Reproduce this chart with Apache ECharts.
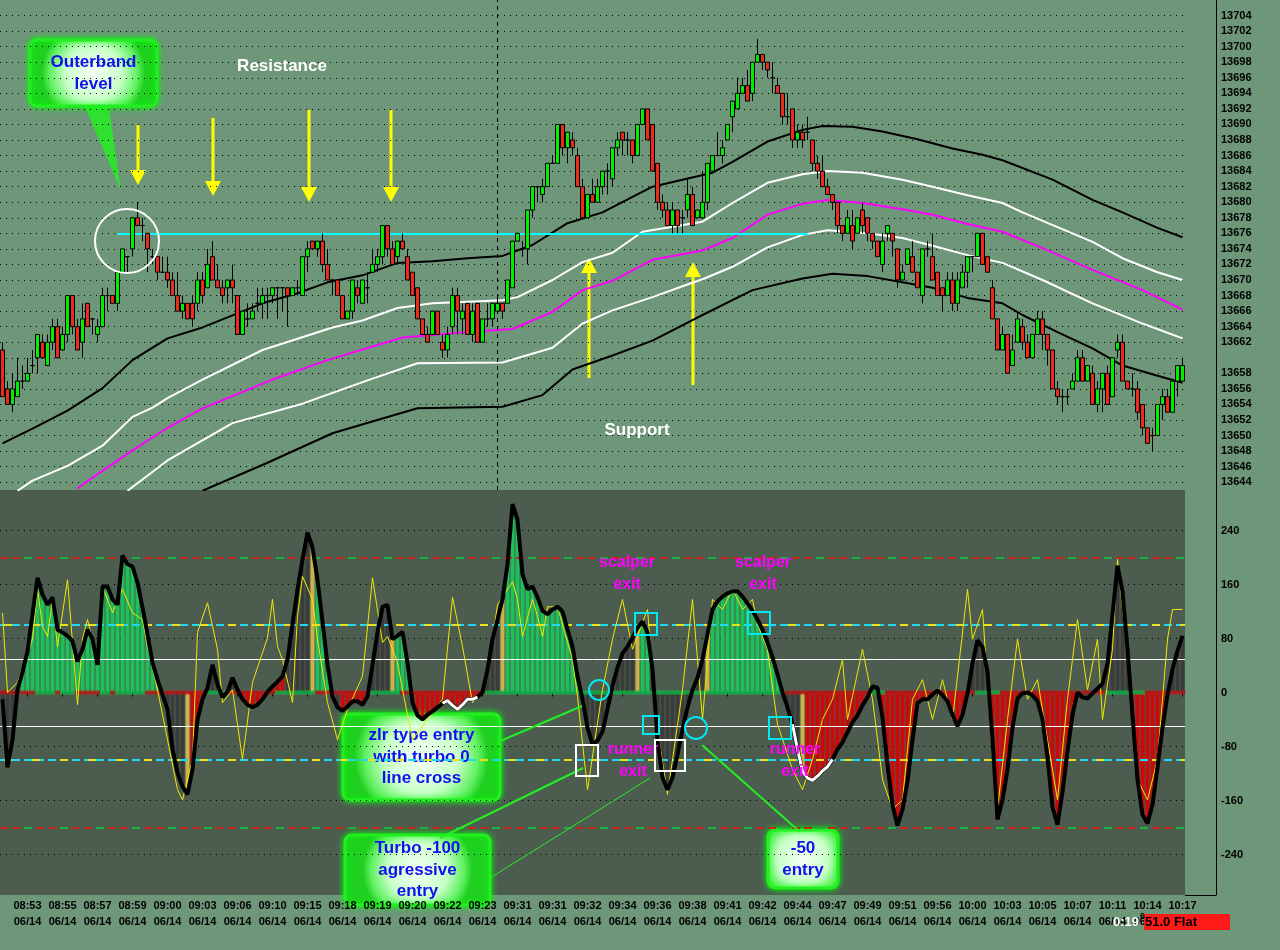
<!DOCTYPE html>
<html><head><meta charset="utf-8">
<script src="https://cdn.jsdelivr.net/npm/echarts@6/dist/echarts.min.js"></script>
<style>html,body{margin:0;padding:0;background:#6e9679;}#c{width:1280px;height:950px;}</style>
</head><body><div id="c"></div>
<script>
// ---------- DATA ----------
const tickTimes = ['08:53','08:55','08:57','08:59','09:00','09:03','09:06','09:10','09:15','09:18','09:19','09:20','09:22','09:23','09:31','09:31','09:32','09:34','09:36','09:38','09:41','09:42','09:44','09:47','09:49','09:51','09:56','10:00','10:03','10:05','10:07','10:11','10:14','10:17'];
const tickDate = '06/14';
const priceGrid = [13644,13646,13648,13650,13652,13654,13656,13658,13660,13662,13664,13666,13668,13670,13672,13674,13676,13678,13680,13682,13684,13686,13688,13690,13692,13694,13696,13698,13700,13702,13704];
const hiddenPriceLabel = 13660; // replaced by the last-price marker
const cciTicks = [-240,-160,-80,0,80,160,240];
const cciLevels = {outer: 200, inner: 100, half: 50};

const opens = [
13661,13656,13654,13655,13657,13657,13659,13660,13662,13659,
13662,13664,13661,13663,13668,13664,13662,13667,13665,13663,
13664,13668,13668,13667,13671,13673,13674,13678,13677,13676,
13673,13673,13671,13671,13670,13668,13666,13667,13667,13667,
13670,13669,13673,13670,13669,13669,13670,13668,13663,13665,
13665,13667,13667,13668,13668,13669,13669,13669,13668,13669,
13668,13673,13675,13674,13675,13672,13670,13670,13668,13665,
13666,13669,13667,13669,13671,13672,13673,13677,13674,13673,
13675,13673,13671,13669,13665,13663,13663,13666,13662,13661,
13664,13668,13665,13667,13663,13667,13662,13665,13665,13666,
13667,13667,13669,13675,13674,13674,13679,13682,13681,13682,
13685,13685,13690,13687,13688,13686,13682,13678,13681,13680,
13682,13684,13683,13687,13689,13688,13688,13686,13690,13692,
13690,13685,13680,13679,13677,13679,13678,13679,13681,13678,
13678,13680,13684,13686,13686,13688,13691,13692,13694,13695,
13694,13698,13699,13698,13696,13695,13694,13691,13692,13688,
13689,13689,13688,13685,13684,13682,13681,13680,13677,13676,
13677,13676,13679,13678,13676,13675,13672,13676,13676,13674,
13670,13672,13673,13671,13668,13674,13673,13671,13669,13668,
13670,13667,13669,13671,13673,13673,13676,13673,13669,13665,
13661,13663,13659,13662,13664,13662,13660,13663,13665,13663,
13661,13656,13655,13655,13656,13657,13660,13657,13658,13654,
13656,13658,13655,13661,13662,13657,13656,13656,13654,13651,
13650,13650,13654,13655,13653,13657,13657];
const closes = [
13655,13654,13656,13657,13657,13658,13659,13663,13660,13662,
13664,13660,13663,13668,13664,13661,13665,13664,13665,13664,
13668,13668,13667,13671,13674,13673,13678,13677,13677,13674,
13673,13671,13671,13670,13668,13666,13667,13665,13665,13670,
13668,13672,13670,13669,13668,13670,13669,13663,13666,13665,
13666,13667,13668,13668,13669,13669,13669,13668,13669,13669,
13673,13674,13674,13675,13672,13670,13670,13668,13665,13666,
13670,13668,13670,13669,13672,13673,13677,13674,13672,13675,
13674,13670,13668,13665,13663,13662,13666,13663,13661,13663,
13668,13666,13666,13663,13666,13662,13665,13665,13667,13667,
13666,13670,13675,13676,13674,13679,13682,13682,13682,13685,
13685,13690,13687,13689,13687,13682,13678,13681,13680,13682,
13684,13684,13687,13688,13688,13688,13686,13690,13692,13688,
13684,13680,13679,13677,13679,13677,13678,13681,13677,13679,
13680,13685,13686,13686,13687,13690,13693,13694,13695,13693,
13698,13699,13698,13697,13696,13694,13691,13691,13688,13689,
13688,13689,13685,13684,13682,13681,13680,13677,13676,13678,
13675,13678,13677,13676,13675,13673,13675,13677,13675,13670,
13671,13674,13671,13669,13674,13674,13670,13668,13668,13670,
13667,13670,13671,13673,13673,13676,13672,13671,13665,13661,
13663,13658,13661,13665,13662,13660,13663,13665,13663,13661,
13656,13655,13655,13655,13657,13660,13657,13659,13654,13656,
13658,13654,13660,13662,13657,13656,13656,13653,13651,13649,
13650,13654,13655,13653,13657,13659,13659];
const lows = [
13655,13654,13653,13655,13656,13657,13658,13658,13660,13659,
13661,13660,13661,13662,13663,13661,13660,13664,13663,13662,
13664,13666,13667,13666,13671,13671,13673,13677,13675,13671,
13672,13670,13671,13669,13668,13666,13665,13665,13664,13666,
13667,13669,13670,13669,13667,13667,13667,13663,13663,13664,
13665,13666,13665,13665,13667,13665,13666,13664,13668,13668,
13668,13671,13674,13673,13671,13670,13668,13668,13665,13665,
13665,13667,13667,13667,13671,13671,13672,13673,13672,13672,
13674,13670,13668,13665,13663,13662,13663,13663,13660,13660,
13663,13663,13663,13663,13662,13662,13662,13664,13664,13666,
13665,13667,13669,13675,13673,13672,13678,13680,13680,13682,
13685,13685,13686,13685,13686,13682,13678,13678,13680,13680,
13681,13681,13682,13686,13686,13686,13685,13686,13690,13688,
13684,13679,13678,13677,13676,13676,13676,13678,13677,13678,
13678,13679,13684,13686,13685,13688,13689,13692,13694,13693,
13693,13698,13697,13696,13694,13694,13690,13690,13687,13687,
13687,13688,13684,13683,13682,13681,13679,13676,13675,13676,
13674,13676,13676,13675,13674,13673,13671,13675,13673,13669,
13670,13672,13671,13669,13667,13673,13670,13668,13666,13668,
13666,13666,13669,13669,13671,13673,13672,13671,13665,13661,
13661,13658,13659,13662,13661,13660,13660,13663,13661,13659,
13656,13654,13653,13654,13656,13657,13657,13657,13654,13653,
13653,13654,13655,13660,13657,13656,13655,13652,13650,13649,
13648,13650,13652,13653,13653,13655,13657];
const highs = [
13662,13657,13658,13660,13659,13660,13661,13663,13663,13663,
13665,13665,13664,13668,13668,13665,13667,13667,13665,13665,
13669,13669,13668,13671,13674,13673,13678,13680,13678,13676,
13674,13673,13673,13673,13671,13671,13668,13667,13668,13671,
13671,13674,13675,13672,13670,13670,13672,13668,13666,13667,
13667,13669,13669,13669,13669,13669,13669,13669,13669,13670,
13673,13675,13675,13675,13676,13674,13670,13670,13668,13666,
13670,13670,13670,13671,13674,13674,13677,13677,13675,13675,
13676,13674,13671,13669,13665,13664,13666,13666,13663,13664,
13669,13669,13667,13667,13667,13667,13665,13667,13667,13668,
13667,13670,13675,13676,13675,13679,13682,13682,13683,13685,
13686,13690,13690,13689,13689,13687,13683,13681,13683,13683,
13684,13685,13687,13689,13689,13689,13688,13690,13692,13692,
13690,13685,13681,13680,13680,13679,13679,13683,13682,13679,
13684,13685,13686,13689,13688,13690,13693,13696,13696,13697,
13698,13701,13699,13698,13698,13696,13694,13694,13692,13690,
13690,13691,13688,13686,13686,13683,13681,13680,13677,13679,
13679,13678,13680,13678,13676,13675,13676,13677,13676,13674,
13672,13674,13675,13671,13674,13675,13676,13671,13669,13671,
13671,13671,13672,13673,13673,13676,13676,13673,13670,13665,
13664,13663,13663,13666,13665,13663,13663,13666,13666,13663,
13661,13657,13656,13656,13658,13661,13661,13659,13659,13657,
13658,13659,13660,13663,13663,13657,13658,13657,13654,13651,
13651,13654,13656,13656,13657,13659,13660];

// band lines: [candle index, price]
const upperOuter = [[0,13649.0],[6,13650.9],[13,13653.2],[20,13656.1],[26,13659.7],[33,13662.5],[40,13663.9],[45,13665.2],[52,13667.0],[59,13668.3],[65,13669.7],[72,13670.6],[79,13672.2],[86,13672.4],[93,13672.8],[100,13673.1],[106,13674.5],[113,13677.3],[120,13678.7],[126,13680.7],[130,13682.0],[136,13682.9],[142,13683.8],[146,13685.2],[153,13687.8],[160,13689.3],[164,13689.8],[170,13689.7],[176,13689.1],[183,13688.1],[190,13686.9],[196,13686.1],[200,13685.4],[210,13682.9],[218,13680.3],[224,13678.7],[231,13676.7],[236,13675.5]];
const upperInner = [[3,13642.9],[6,13644.2],[13,13646.1],[20,13648.7],[26,13652.4],[30,13653.6],[33,13654.8],[40,13657.2],[52,13661.0],[66,13663.9],[72,13664.8],[79,13666.4],[86,13667.0],[100,13667.4],[103,13667.8],[110,13670.0],[116,13672.3],[122,13673.5],[128,13676.2],[140,13677.5],[146,13679.9],[153,13682.5],[160,13683.6],[165,13684.0],[172,13683.8],[180,13682.9],[186,13682.0],[193,13680.9],[200,13679.9],[204,13678.7],[211,13676.8],[218,13674.9],[224,13672.8],[231,13671.0],[236,13670.0]];
const middle = [[15,13643.2],[18,13644.6],[26,13648.1],[33,13651.0],[40,13653.5],[54,13657.2],[65,13659.7],[80,13662.6],[93,13663.3],[102,13663.7],[110,13665.9],[116,13668.7],[122,13669.9],[130,13672.6],[140,13673.8],[146,13675.4],[153,13678.4],[160,13679.8],[165,13680.3],[172,13679.9],[180,13679.1],[186,13678.4],[193,13677.2],[200,13676.2],[208,13674.1],[218,13671.3],[228,13668.7],[236,13666.2]];
const lowerInner = [[25,13642.9],[33,13646.8],[46,13651.6],[60,13654.1],[73,13657.1],[83,13659.3],[100,13659.4],[110,13661.3],[116,13664.4],[122,13666.1],[130,13667.8],[136,13669.2],[140,13670.1],[146,13671.7],[153,13674.2],[160,13675.8],[165,13676.4],[173,13676.0],[180,13675.4],[186,13674.4],[193,13673.2],[200,13672.2],[208,13670.0],[218,13667.0],[228,13664.4],[236,13662.5]];
const lowerOuter = [[40,13642.9],[53,13646.5],[66,13650.3],[76,13652.2],[83,13653.5],[100,13653.7],[108,13655.2],[114,13658.5],[122,13660.3],[130,13662.2],[140,13665.5],[150,13668.7],[160,13670.2],[166,13670.8],[173,13670.5],[180,13669.7],[186,13669.0],[193,13667.7],[200,13667.0],[204,13665.5],[211,13663.3],[218,13661.2],[224,13659.0],[231,13657.7],[236,13656.8]];
const resistance = 13676, resistStart = 23, resistEnd = 161, sessionBreak = 99;

// CCI histogram / line, one value per candle
const cci = [
-10,-111,-70,4,30,61,116,170,145,130,
141,93,89,84,76,46,64,93,79,41,
157,157,138,130,203,190,187,163,126,86,
44,19,-3,-25,-84,-119,-139,-151,-114,-40,
-10,7,41,12,-7,1,22,4,-10,-18,
-22,-18,-10,1,9,16,24,49,101,153,
197,237,215,167,105,41,-6,-22,-27,-21,
-13,-13,-18,-6,41,89,127,130,79,84,
90,44,-15,-34,-40,-33,-28,-22,-16,-12,
-19,-25,-18,-10,-10,-7,1,34,79,108,
138,190,279,256,175,153,157,141,121,116,
123,127,120,93,68,24,-10,-52,-77,-71,
-58,-25,10,37,58,68,81,96,105,89,
34,-70,-126,-144,-126,-92,-55,-22,4,22,
49,86,123,135,142,147,150,150,142,132,
121,108,93,74,52,27,0,-22,-47,-84,
-117,-127,-130,-124,-116,-110,-99,-84,-74,-59,
-44,-34,-19,-7,9,7,-37,-107,-167,-197,
-173,-132,-70,-16,-10,-10,-3,3,-4,-13,
-33,-50,-33,-1,43,77,67,31,-70,-188,
-159,-114,-52,-9,-1,0,-4,-13,-40,-96,
-170,-196,-147,-87,-33,0,-7,-9,-1,6,
13,43,116,188,150,64,-34,-129,-181,-194,
-166,-111,-52,-3,34,62,84];
// histogram state per candle: g = trend up, r = trend down, k = no trend, y = trend change bar
const histState =
'kkk'+'gggggggggggggggggggggggggggg'+'gg'+'kkkk'+'y'+'rrr'+'kkkkkkk'+'rrrrrrrrr'+'kkkkk'+'y'+'ggg'+'kk'+'rrrrrr'+
'kkkk'+'y'+'ggg'+'rrrrrrrrrrrrrrr'+'kkk'+'y'+'ggggggggggggggg'+'kkkkkk'+'kkkkk'+'y'+'gg'+'kkkkkkkkkkk'+'y'+
'gggggggggggggg'+'kkkk'+'y'+'rrrrrrrrrrrrr'+'kk'+'rrrrrrrrrrrrrrrrr'+'kkkkk'+'rrrrrrrrrrrrrrrrr'+'kkkkkkk'+'kkkk'+'rrrrrrr'+'kkkk';
// zero-line state per candle: g / r
const zeroState =
'rrrrrrrggggrgggrrrrrggrggggggrrrrrrrrrrrrggggrrrrrrrrrrggggggggrrrrrrrrrrrggggggrrrrrrrrrrrrrrrrr'+
'ggggggggggggggggggggggggggggggggggggggggggggggggggggggggggggrrrrrrrrrrrrrrrrrgggrrrrrrrrrrrrrrrrrrgggggrrrrrrr'+
'rrrrrrrrrrrrrrggggggggrrrrrrrrgggg';
// candle ranges where the CCI line is drawn white
const whiteRanges = [[88, 95], [158, 166]];
// turbo CCI (thin yellow) samples [candle index, value]
const turbo = [[0,118],[1,0],[3,15],[6,79],[7,153],[8,98],[9,83],[10,138],[11,68],[13,167],[15,-18],[16,79],[17,108],[19,49],[20,157],[22,118],[24,153],[26,118],[28,108],[29,68],[31,4],[33,-70],[35,-144],[36,-159],[38,-99],[39,89],[41,133],[43,64],[44,-15],[46,4],[48,-99],[50,15],[53,81],[54,138],[55,68],[56,49],[58,-15],[59,113],[60,172],[62,138],[63,79],[65,-15],[67,-70],[69,-25],[72,24],[74,170],[76,74],[77,83],[79,44],[80,4],[82,-70],[85,-40],[88,-10],[90,141],[92,68],[94,-15],[96,4],[98,79],[99,130],[102,164],[103,138],[104,83],[106,138],[107,113],[108,83],[109,127],[111,127],[113,74],[114,49],[115,-6],[117,-144],[120,4],[122,79],[124,138],[126,64],[129,123],[131,-55],[133,-151],[136,4],[138,138],[140,-40],[142,138],[144,123],[146,153],[148,123],[150,138],[151,101],[153,64],[155,-47],[158,-114],[160,-144],[162,-99],[164,-40],[166,-10],[168,49],[169,-40],[172,64],[174,-10],[176,-129],[178,-173],[180,-159],[182,-10],[184,19],[186,-40],[188,19],[190,-40],[193,153],[194,79],[196,123],[198,-99],[199,-173],[201,-40],[203,79],[205,-10],[207,19],[209,-70],[211,-159],[213,-10],[215,108],[217,4],[219,79],[220,-40],[222,64],[223,197],[225,49],[227,-129],[229,-159],[231,-99],[233,79],[234,123],[236,123]];

// ---------- BUILD ----------
const N = opens.length;
if ([closes,lows,highs,cci].some(a => a.length !== N) || histState.length !== N) throw new Error('length mismatch ' + [N, closes.length, lows.length, highs.length, cci.length, histState.length, zeroState.length]);
const cats = opens.map((_, i) => String(i));
const candles = opens.map((o, i) => [o, closes[i], lows[i], highs[i]]);
const lastClose = closes[N - 1];
const isTick = i => i >= 5 && (i - 5) % 7 === 0;
const FONT = '"Liberation Sans", Arial, sans-serif';
const histColors = {g: '#1fbf5a', r: '#cc0808', k: '#3a3c3a', y: '#cbb24a'};
const zeroColors = {g: '#10b848', r: '#c01818'};
const whiteCci = cci.map((v, i) => whiteRanges.some(([a, b]) => i >= a && i <= b) ? v : null);

const chart = echarts.init(document.getElementById('c'), null, {renderer: 'canvas'});

function bandLine(data, color, width) {
  return {type: 'line', xAxisIndex: 0, yAxisIndex: 0, data: data, showSymbol: false, symbol: 'none',
    lineStyle: {color: color, width: width}, silent: true, z: 3};
}
const grad = () => new echarts.graphic.RadialGradient(0.5, 0.5, 0.75, [
  {offset: 0, color: '#f6fff6'}, {offset: 0.55, color: '#c8ffc8'}, {offset: 0.85, color: '#60f060'}, {offset: 1, color: '#20d020'}]);
function callout(x, y, w, h, text, lh, extra) {
  const ch = [];
  if (extra) ch.push(extra);
  ch.push({type: 'rect', shape: {x: 0, y: 0, width: w, height: h, r: 7},
    style: {fill: grad(), stroke: '#22ee22', lineWidth: 3, shadowBlur: 6, shadowColor: '#00ff00'}});
  ch.push({type: 'text', x: w / 2, y: h / 2, style: {text: text, fill: '#1010f0', font: 'bold 17px ' + FONT,
    align: 'center', verticalAlign: 'middle', lineHeight: lh}});
  return {type: 'group', x: x, y: y, children: ch, z: 50};
}
function arrow(x, y1, y2) {
  const dir = y2 > y1 ? 1 : -1;
  return {type: 'group', z: 40, children: [
    {type: 'line', shape: {x1: x, y1: y1, x2: x, y2: y2 - dir * 12}, style: {stroke: '#ffff00', lineWidth: 3}},
    {type: 'polygon', shape: {points: [[x - 8, y2 - dir * 15], [x + 8, y2 - dir * 15], [x, y2]]}, style: {fill: '#ffff00'}}]};
}
function txt(x, y, t, color, size) {
  return {type: 'text', x: x, y: y, z: 45, style: {text: t, fill: color, font: 'bold ' + size + 'px ' + FONT, align: 'center', verticalAlign: 'middle', lineHeight: 22}};
}
function sq(x, y, w, h, c) { return {type: 'rect', z: 45, shape: {x: x, y: y, width: w, height: h}, style: {fill: 'transparent', stroke: c, lineWidth: 2}}; }
function circ(cx, cy, r, c) { return {type: 'circle', z: 45, shape: {cx: cx, cy: cy, r: r}, style: {fill: 'transparent', stroke: c, lineWidth: 2}}; }
function gline(x1, y1, x2, y2, w) { return {type: 'line', z: 44, shape: {x1: x1, y1: y1, x2: x2, y2: y2}, style: {stroke: '#22ee22', lineWidth: w}}; }

const lvl = (v, color, type, width, off) => ({yAxis: v, lineStyle: {color: color, type: type, width: width, dashOffset: off || 0}, label: {show: false}});

const option = {
  backgroundColor: '#6e9679',
  animation: false,
  grid: [
    {left: 0, width: 1185, top: 0, height: 490},
    {left: 0, width: 1185, top: 490, height: 405, show: true, backgroundColor: '#4c5d50', borderWidth: 0}
  ],
  xAxis: [
    {type: 'category', gridIndex: 0, data: cats, axisLine: {show: false}, axisTick: {show: false}, axisLabel: {show: false}, splitLine: {show: false}},
    {type: 'category', gridIndex: 1, data: cats,
      axisLine: {show: true, lineStyle: {color: '#000', width: 1}},
      axisTick: {show: true, interval: (i) => isTick(i), alignWithLabel: true, length: 4, lineStyle: {color: '#000'}},
      axisLabel: {show: true, interval: (i) => isTick(i), color: '#000', fontWeight: 'bold', fontSize: 11, fontFamily: FONT, lineHeight: 16, margin: 3,
        formatter: (v) => { const k = (Number(v) - 5) / 7; return tickTimes[k] + '\n' + tickDate; }},
      splitLine: {show: false}}
  ],
  yAxis: [
    {type: 'value', gridIndex: 0, position: 'right', offset: 31, min: 13643, max: 13706,
      axisLine: {show: true, lineStyle: {color: '#000', width: 1}},
      axisTick: {show: false, customValues: priceGrid},
      axisLabel: {customValues: priceGrid, formatter: v => (v === hiddenPriceLabel ? '' : String(v)), color: '#000', fontWeight: 'bold', fontSize: 11, fontFamily: FONT, margin: 5},
      splitLine: {show: true, lineStyle: {color: '#000', type: [1, 5], width: 1}}},
    {type: 'value', gridIndex: 1, position: 'right', offset: 31, min: -300, max: 300,
      axisLine: {show: true, lineStyle: {color: '#000', width: 1}},
      axisTick: {show: false, customValues: cciTicks},
      axisLabel: {customValues: cciTicks, formatter: v => String(v), color: '#000', fontWeight: 'bold', fontSize: 11, fontFamily: FONT, margin: 5},
      splitLine: {show: true, lineStyle: {color: '#000', type: [1, 5], width: 1}}}
  ],
  series: [
    bandLine(upperOuter, '#000000', 2),
    bandLine(upperInner, '#ffffff', 2),
    bandLine(middle, '#ff00ff', 2),
    bandLine(lowerInner, '#ffffff', 2),
    bandLine(lowerOuter, '#000000', 2),
    {type: 'candlestick', xAxisIndex: 0, yAxisIndex: 0, data: candles, barWidth: 4, z: 5,
      itemStyle: {color: '#00ee00', color0: '#ee2a1a', borderColor: '#000', borderColor0: '#000', borderWidth: 1},
      markLine: {symbol: 'none', silent: true, animation: false, data: [
        {yAxis: lastClose, lineStyle: {opacity: 0}, label: {show: true, position: 'end', distance: 36, formatter: String(lastClose), color: '#000', fontWeight: 'bold', fontSize: 13, fontFamily: FONT, offset: [0, -7]}},
        [{coord: [resistStart, resistance], lineStyle: {color: '#00ffff', width: 2, type: 'solid'}, label: {show: false}}, {coord: [resistEnd, resistance]}],
        {xAxis: sessionBreak, lineStyle: {color: '#000', type: [4, 4], width: 1}, label: {show: false}}
      ]}},
    {type: 'line', xAxisIndex: 1, yAxisIndex: 1, data: [], silent: true,
      markLine: {symbol: 'none', silent: true, animation: false, data: [
        lvl(cciLevels.outer, '#c02818', [8, 4], 2), lvl(cciLevels.outer, '#20b040', [8, 28], 2, 12),
        lvl(cciLevels.inner, '#20d8f0', [8, 4], 2), lvl(cciLevels.inner, '#e8e020', [8, 20], 2, 24),
        lvl(cciLevels.half, '#ffffff', 'solid', 1),
        lvl(-cciLevels.half, '#ffffff', 'solid', 1),
        lvl(-cciLevels.inner, '#20d8f0', [8, 4], 2), lvl(-cciLevels.inner, '#e8e020', [8, 20], 2, 24),
        lvl(-cciLevels.outer, '#c02818', [8, 4], 2), lvl(-cciLevels.outer, '#20b040', [8, 28], 2, 12)
      ]}},
    {type: 'bar', xAxisIndex: 1, yAxisIndex: 1, data: cci, barWidth: 4, z: 3, silent: true,
      itemStyle: {color: p => histColors[histState[p.dataIndex]]}},
    {type: 'scatter', xAxisIndex: 1, yAxisIndex: 1, data: cats.map((c, i) => [i, 0]), symbol: 'rect', symbolSize: [5, 4], z: 4, silent: true,
      itemStyle: {color: p => zeroColors[zeroState[p.dataIndex]] || '#c01818'}},
    {type: 'line', xAxisIndex: 1, yAxisIndex: 1, data: turbo, showSymbol: false, symbol: 'none', z: 5, silent: true,
      lineStyle: {color: '#f0e800', width: 1}},
    {type: 'line', xAxisIndex: 1, yAxisIndex: 1, data: cci, showSymbol: false, symbol: 'none', z: 6, silent: true,
      lineStyle: {color: '#000', width: 4}},
    {type: 'line', xAxisIndex: 1, yAxisIndex: 1, data: whiteCci, showSymbol: false, symbol: 'none', z: 7, silent: true, connectNulls: false,
      lineStyle: {color: '#ffffff', width: 3}}
  ],
  graphic: [
    {type: 'line', z: 30, shape: {x1: 1185, y1: 895.5, x2: 1216, y2: 895.5}, style: {stroke: '#000', lineWidth: 1}},
    callout(30, 40, 127, 66, 'Outerband\nlevel', 22,
      {type: 'polygon', shape: {points: [[52, 60], [78, 60], [91, 151]]}, style: {fill: '#30e030'}}),
    circ(127, 241, 32, '#ffffff'),
    txt(282, 66, 'Resistance', '#ffffff', 17),
    txt(637, 430, 'Support', '#ffffff', 17),
    arrow(138, 125, 185), arrow(213, 118, 196), arrow(309, 110, 202), arrow(391, 110, 202),
    arrow(589, 378, 258), arrow(693, 385, 262),
    txt(627, 574, 'scalper\nexit', '#ff00ff', 16), txt(763, 574, 'scalper\nexit', '#ff00ff', 16),
    txt(633, 761, 'runner\nexit', '#ff00ff', 16), txt(795, 761, 'runner\nexit', '#ff00ff', 16),
    sq(635, 613, 22, 22, '#00e8f0'), sq(748, 612, 22, 22, '#00e8f0'), sq(643, 716, 16, 18, '#00e8f0'), sq(769, 717, 22, 22, '#00e8f0'),
    circ(599, 690, 10, '#00e8f0'), circ(696, 728, 11, '#00e8f0'),
    sq(576, 745, 22, 31, '#ffffff'), sq(655, 740, 30, 31, '#ffffff'),
    gline(498, 742, 582, 706, 2), gline(440, 838, 583, 768, 2), gline(490, 878, 650, 778, 1), gline(800, 832, 702, 745, 2),
    callout(343, 714, 157, 86, 'zlr type entry\nwith turbo 0\nline cross', 21.5),
    callout(345, 835, 145, 70, 'Turbo -100\nagressive\nentry', 21.5),
    callout(768, 830, 70, 58, '-50\nentry', 22),
    {type: 'text', x: 1113, y: 922, z: 60, style: {text: '0:19', fill: '#ffffff', font: 'bold 13px ' + FONT, verticalAlign: 'middle'}},
    {type: 'rect', z: 60, shape: {x: 1144, y: 914, width: 86, height: 16}, style: {fill: '#ff1a1a'}},
    {type: 'text', x: 1140, y: 917, z: 61, style: {text: '6', fill: '#000', font: 'bold 9px ' + FONT, verticalAlign: 'middle'}},
    {type: 'text', x: 1145, y: 922, z: 61, style: {text: '51.0 Flat', fill: '#000', font: 'bold 13px ' + FONT, verticalAlign: 'middle'}}
  ]
};
chart.setOption(option);
</script></body></html>
